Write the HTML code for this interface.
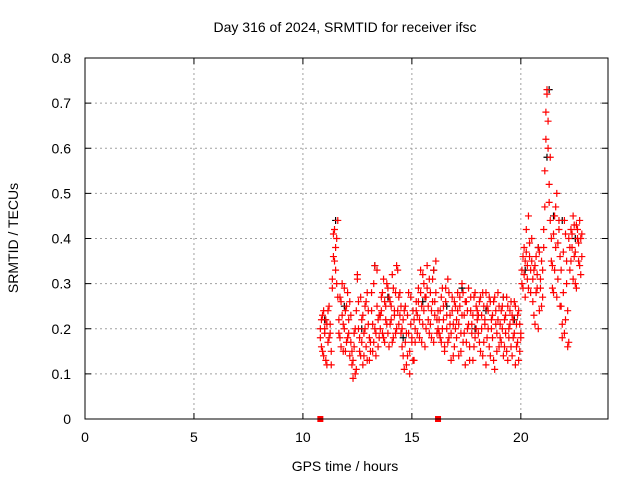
<!DOCTYPE html>
<html><head><meta charset="utf-8"><style>
html,body{margin:0;padding:0;background:#fff}
svg{display:block;font-family:"Liberation Sans",sans-serif}
</style></head><body>
<svg id="chart" width="640" height="480" viewBox="0 0 640 480" xmlns="http://www.w3.org/2000/svg">
<rect width="640" height="480" fill="#fff"/>
<text x="345" y="32" font-size="14" text-anchor="middle">Day 316 of 2024, SRMTID for receiver ifsc</text>
<text x="18" y="238" font-size="14" text-anchor="middle" transform="rotate(-90 18 238)">SRMTID / TECUs</text>
<text x="345" y="471" font-size="14" text-anchor="middle">GPS time / hours</text>
<g id="grid"></g><g id="ticks"></g><g id="marks"></g>
<rect x="85" y="58" width="523" height="361" fill="none" stroke="#000" stroke-width="1"/>
</svg>
<script>
const xTicks=[0,5,10,15,20];
const yTicks=[0,0.1,0.2,0.3,0.4,0.5,0.6,0.7,0.8];
const yTickLabels=["0","0.1","0.2","0.3","0.4","0.5","0.6","0.7","0.8"];
const times=[10.80,10.85,10.90,10.95,11.00,11.05,11.10,11.15,11.20,11.25,11.30,
11.35,11.40,11.45,11.50,11.55,11.60,
11.65,11.70,11.75,11.80,11.85,11.90,11.95,12.00,12.05,12.10,12.15,12.20,
12.25,12.30,12.35,12.40,12.45,12.50,
12.55,12.60,12.65,12.70,12.75,12.80,12.85,12.90,12.95,13.00,13.05,13.10,13.15,13.20,13.25,13.30,13.35,13.40,13.45,13.50,
13.55,13.60,13.65,13.70,13.75,13.80,13.85,13.90,13.95,14.00,14.05,14.10,14.15,14.20,14.25,14.30,14.35,14.40,14.45,14.50,
14.55,14.60,14.65,14.70,14.75,14.80,14.85,14.90,14.95,15.00,15.05,15.10,15.15,15.20,
15.25,15.30,15.35,15.40,15.45,15.50,15.55,15.60,15.65,15.70,15.75,15.80,15.85,15.90,15.95,16.00,16.05,16.10,16.15,16.20,
16.25,16.30,16.35,16.40,16.45,16.50,16.55,16.60,16.65,16.70,16.75,16.80,16.85,16.90,16.95,17.00,
17.05,17.10,17.15,17.20,17.25,17.30,17.35,17.40,17.45,17.50,17.55,17.60,17.65,17.70,17.75,17.80,17.85,17.90,17.95,18.00,
18.05,18.10,18.15,18.20,18.25,18.30,18.35,18.40,18.45,18.50,18.55,18.60,18.65,18.70,18.75,18.80,18.85,18.90,18.95,19.00,
19.05,19.10,19.15,19.20,19.25,19.30,19.35,19.40,19.45,19.50,19.55,19.60,19.65,19.70,19.75,19.80,19.85,19.90,19.95,20.00,
20.05,20.10,20.15,20.20,20.25,20.30,20.35,20.40,20.45,20.50,
20.55,20.60,20.65,20.70,20.75,20.80,20.85,20.90,20.95,21.00,
21.05,21.10,21.15,21.20,21.25,21.30,21.35,21.40,
21.45,21.50,21.55,21.60,21.65,21.70,21.75,21.80,
21.85,21.90,21.95,22.00,22.05,22.10,22.15,22.20,
22.25,22.30,22.35,22.40,22.45,22.50,22.55,22.60,22.65,22.70,22.75,22.80];
const valuesA=[.18,.22,.15,.24,.20,.13,.21,.17,.25,.19,.12,
.31,.36,.42,.33,.40,.27,
.22,.18,.26,.30,.15,.20,.24,.17,.28,.19,.14,.23,
.12,.09,.16,.20,.11,.31,
.26,.18,.14,.22,.12,.19,.25,.16,.28,.21,.13,.17,.24,.15,.30,.20,.14,.33,.22,.18,
.23,.27,.19,.31,.17,.25,.21,.29,.16,.26,.22,.32,.18,.24,.28,.20,.33,.27,.23,.19,
.16,.22,.11,.25,.19,.14,.28,.10,.21,.17,.24,.13,.20,.26,
.23,.29,.18,.33,.25,.21,.30,.16,.27,.34,.22,.19,.28,.24,.31,.17,.26,.35,.22,.20,
.19,.24,.17,.29,.22,.15,.26,.20,.31,.18,.23,.13,.27,.21,.16,.25,
.22,.28,.14,.25,.19,.30,.17,.23,.12,.26,.20,.29,.16,.24,.21,.13,.27,.18,.25,.22,
.19,.26,.15,.23,.28,.17,.21,.12,.25,.20,.27,.14,.22,.18,.26,.11,.24,.19,.28,.16,
.21,.17,.25,.14,.22,.19,.27,.13,.20,.24,.16,.23,.18,.26,.12,.21,.17,.24,.15,.19,
.33,.29,.38,.35,.42,.31,.45,.36,.28,.40,
.26,.33,.21,.36,.29,.38,.24,.31,.35,.27,
.42,.55,.62,.72,.66,.48,.58,.40,
.34,.28,.45,.38,.50,.31,.42,.36,
.25,.18,.37,.44,.22,.30,.16,.40,
.33,.42,.38,.45,.36,.30,.43,.40,.35,.44,.32,.41];
const valuesB=[.20,.16,.23,.14,.19,.22,.12,.24,.18,.21,.15,
.29,.41,.35,.38,.30,.44,
.19,.27,.16,.23,.21,.29,.15,.25,.18,.22,.26,.17,
.15,.13,.19,.10,.24,.32,
.20,.15,.27,.17,.23,.14,.20,.26,.13,.24,.18,.15,.28,.21,.17,.34,.19,.25,.16,.23,
.20,.24,.28,.18,.26,.22,.30,.19,.27,.21,.25,.17,.29,.23,.19,.34,.24,.21,.28,.25,
.20,.14,.24,.17,.12,.23,.19,.15,.27,.18,.13,.22,.17,.24,
.19,.26,.22,.28,.17,.32,.24,.27,.20,.29,.25,.31,.21,.18,.26,.33,.23,.28,.19,.24,
.22,.18,.27,.20,.25,.16,.29,.23,.17,.28,.21,.19,.24,.14,.26,.20,
.18,.24,.21,.27,.15,.23,.28,.19,.26,.17,.24,.21,.13,.27,.19,.23,.16,.28,.20,.24,
.23,.17,.27,.20,.14,.25,.22,.28,.18,.24,.16,.26,.20,.23,.13,.27,.21,.15,.22,.25,
.18,.24,.20,.27,.16,.23,.15,.25,.18,.21,.26,.14,.22,.19,.25,.16,.23,.13,.21,.18,
.30,.36,.32,.27,.37,.34,.29,.39,.33,.35,
.31,.23,.34,.28,.32,.20,.37,.29,.25,.33,
.38,.47,.68,.73,.60,.52,.44,.35,
.29,.41,.33,.47,.27,.39,.44,.25,
.33,.21,.28,.19,.41,.35,.24,.17,
.38,.35,.41,.31,.43,.37,.29,.42,.39,.34,.40,.36];
const blackTimes=[11.0,11.5,11.9,12.7,13.3,13.9,14.6,15.5,16.0,16.6,17.3,17.9,18.4,19.2,19.7,20.2,20.8,21.3,21.5,21.9,22.5,21.2];
const blackValues=[.22,.44,.25,.20,.34,.27,.18,.26,.33,.25,.29,.20,.24,.27,.22,.33,.38,.73,.45,.44,.40,.58];
const zeroTimes=[10.8,16.2];
const zeroValues=[0,0];

const X=t=>85+t*(523/24);
const Y=v=>419-v*(361/0.8);
const NS="http://www.w3.org/2000/svg";
const mk=(tag,attrs,parent)=>{const e=document.createElementNS(NS,tag);for(const k in attrs)e.setAttribute(k,attrs[k]);parent.appendChild(e);return e;};
const grid=document.getElementById('grid'),ticks=document.getElementById('ticks'),marks=document.getElementById('marks');
xTicks.forEach(t=>{
  const x=X(t);
  if(t>0){const g=mk('line',{x1:x,x2:x,y1:58,y2:419,stroke:'#a0a0a0','stroke-dasharray':'2,3'},grid);
  
  }
  mk('line',{x1:x,x2:x,y1:419,y2:413,stroke:'#000'},ticks);
  mk('line',{x1:x,x2:x,y1:58,y2:64,stroke:'#000'},ticks);
  const l=mk('text',{x:x,y:442,'font-size':14,'text-anchor':'middle'},ticks);l.textContent=t;
  
  
});
yTicks.forEach((v,i)=>{
  const y=Y(v);
  if(v>0&&v<0.8){const g=mk('line',{x1:85,x2:608,y1:y,y2:y,stroke:'#a0a0a0','stroke-dasharray':'2,3'},grid);
  
  }
  mk('line',{x1:85,x2:91,y1:y,y2:y,stroke:'#000'},ticks);
  mk('line',{x1:608,x2:602,y1:y,y2:y,stroke:'#000'},ticks);
  const l=mk('text',{x:71,y:y+5,'font-size':14,'text-anchor':'end'},ticks);l.textContent=yTickLabels[i];
  
  
});
function cross(t,v,color,name){
  const x=X(t),y=Y(v);
  const p=mk('path',{d:`M${x-3.5},${y}H${x+3.5}M${x},${y-3.5}V${y+3.5}`,stroke:color,'stroke-width':1.2,fill:'none'},marks);
  
  
}
blackTimes.forEach((t,i)=>cross(t,blackValues[i],'#000','black-point'));
times.forEach((t,i)=>cross(t,valuesA[i],'#f00','red-point'));
times.forEach((t,i)=>cross(t,valuesB[i],'#f00','red-point'));
zeroTimes.forEach((t,i)=>{
  const r=mk('rect',{x:X(t)-3,y:Y(zeroValues[i])-3,width:6,height:6,fill:'#f00'},marks);
  
  
});
</script>
</body></html>
